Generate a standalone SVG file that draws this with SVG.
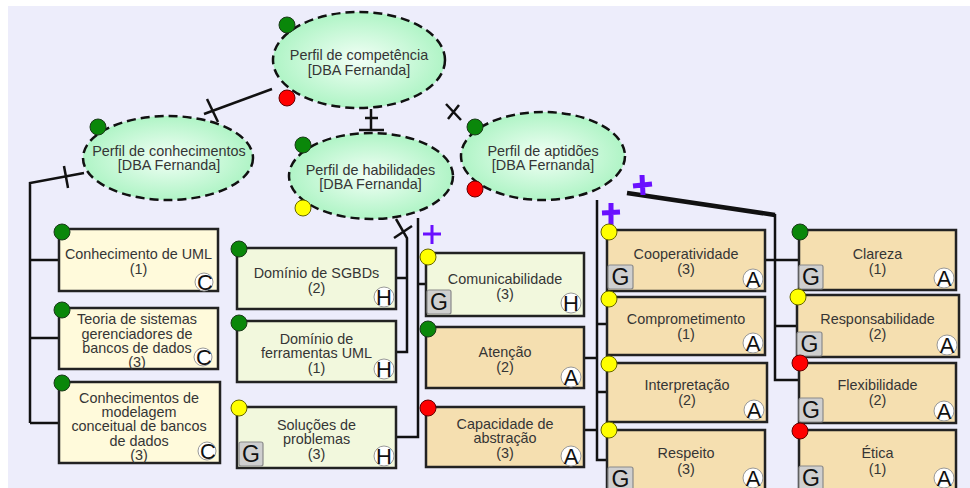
<svg xmlns="http://www.w3.org/2000/svg" width="970" height="488" viewBox="0 0 970 488">
<defs>
<radialGradient id="eg" cx="50%" cy="50%" r="55%">
<stop offset="0%" stop-color="#f2fff6"/>
<stop offset="100%" stop-color="#a9f3c1"/>
</radialGradient>
<style>
text{font-family:"Liberation Sans",Arial,sans-serif;font-size:14.4px;fill:#353535;text-anchor:middle}
.ell{fill:url(#eg);stroke:#111;stroke-width:2.5;stroke-dasharray:9 5}
.bk{fill:#fffadb;stroke:#222;stroke-width:2.5}
.bh{fill:#f2f8dd;stroke:#222;stroke-width:2.5}
.ba{fill:#f5dfb0;stroke:#222;stroke-width:2.5}
.gr{fill:#0a870a;stroke:#1a3a1a;stroke-width:1}
.ye{fill:#ffff00;stroke:#666600;stroke-width:1}
.rd{fill:#ff0000;stroke:#660000;stroke-width:1}
.ic{fill:#fff;stroke:#999;stroke-width:1}
.il{font-size:22px;fill:#111}
.gb{fill:#cfcfcf;stroke:#8a8a8a;stroke-width:1.2}
.gl{font-size:23px;fill:#111}
.cn{fill:none;stroke:#111;stroke-width:2.5}
.pl{fill:none;stroke:#6a10ff;stroke-linecap:butt}
</style>
</defs>
<rect x="0" y="0" width="970" height="488" fill="#ffffff"/>
<rect x="8" y="6" width="962" height="482" fill="#ededfb"/>

<g id="connectors">
<path class="cn" d="M272,89 L204,114"/>
<path class="cn" d="M207,99 L218,122"/>
<path class="cn" d="M371,109 L371,131"/>
<path class="cn" d="M365,118 L378,118 M359,130 L384,130"/>
<path class="cn" d="M446,104 L461,120 M459,105 L448,119"/>
<path class="cn" d="M84,173 L30,183 L30,423"/>
<path class="cn" d="M64,166 L68,188"/>
<path class="cn" d="M30,260 L59,260 M30,338 L59,338 M30,423 L59,423"/>
<path class="cn" d="M396,219 L407,238 L407,352 L396,352 M407,278 L396,278"/>
<path class="cn" d="M394,238 L412,226"/>
<path class="cn" d="M418,218 L418,437 L396,437 M418,284 L426,284"/>
<path class="cn" d="M597,200 L597,460 L607,460 M597,324 L607,324 M597,392 L607,392 M584,358 L597,358 M584,430 L597,430"/>
<path fill="none" stroke="#111" stroke-width="4.5" d="M627,193 L775,215"/>
<path class="cn" stroke-width="3" d="M775,214 L775,380 L800,380 M765,260 L800,260 M775,326 L797,326"/>
<path class="pl" stroke-width="3" d="M423,234 L441,234 M432,225 L432,244"/>
<path class="pl" stroke-width="5" d="M602,213 L620,212 M611,203 L611,227"/>
<path class="pl" stroke-width="5" d="M633,186 L652,184 M642,175 L643,195"/>
</g>

<g id="n-competencia">
<ellipse class="ell" cx="359" cy="60" rx="86" ry="48"/>
<text x="359" y="60">Perfil de competência</text>
<text x="359" y="75">[DBA Fernanda]</text>
<circle class="gr" cx="287" cy="25" r="8"/>
<circle class="rd" cx="287" cy="98" r="8"/>
</g>

<g id="n-conhecimentos">
<ellipse class="ell" cx="168" cy="158" rx="85" ry="42"/>
<text x="169" y="156">Perfil de conhecimentos</text>
<text x="169" y="170">[DBA Fernanda]</text>
<circle class="gr" cx="98" cy="127" r="8"/>
</g>

<g id="n-habilidades">
<ellipse class="ell" cx="371" cy="176" rx="82" ry="43"/>
<text x="370.5" y="175">Perfil de habilidades</text>
<text x="370.5" y="189">[DBA Fernanda]</text>
<circle class="gr" cx="303" cy="145" r="8"/>
<circle class="ye" cx="303" cy="208" r="8"/>
</g>

<g id="n-aptidoes">
<ellipse class="ell" cx="543" cy="156" rx="82" ry="44"/>
<text x="543" y="156">Perfil de aptidões</text>
<text x="543" y="170">[DBA Fernanda]</text>
<circle class="gr" cx="475" cy="127" r="8"/>
<circle class="rd" cx="475" cy="189" r="8"/>
</g>

<g id="n-uml">
<rect class="bk" x="59" y="229" width="159" height="62"/>
<text x="138.5" y="259">Conhecimento de UML</text>
<text x="138.5" y="274">(1)</text>
<circle class="ic" cx="204" cy="282" r="9"/><text class="il" x="205" y="290">C</text>
<circle class="gr" cx="62" cy="232" r="8"/>
</g>

<g id="n-teoria">
<rect class="bk" x="59" y="308" width="159" height="61"/>
<text x="137" y="324">Teoria de sistemas</text>
<text x="137" y="339">gerenciadores de</text>
<text x="137" y="353">bancos de dados</text>
<text x="137" y="367">(3)</text>
<circle class="ic" cx="203" cy="357" r="9"/><text class="il" x="204" y="365">C</text>
<circle class="gr" cx="62" cy="310" r="8"/>
</g>

<g id="n-modelagem">
<rect class="bk" x="59" y="382" width="161" height="81"/>
<text x="139" y="403">Conhecimentos de</text>
<text x="139" y="417">modelagem</text>
<text x="139" y="431">conceitual de bancos</text>
<text x="139" y="446">de dados</text>
<text x="139" y="460">(3)</text>
<circle class="ic" cx="207" cy="451" r="9"/><text class="il" x="208" y="459">C</text>
<circle class="gr" cx="62" cy="383" r="8"/>
</g>

<g id="n-sgbds">
<rect class="bh" x="237" y="248" width="159" height="61"/>
<text x="316.5" y="278">Domínio de SGBDs</text>
<text x="316.5" y="293">(2)</text>
<circle class="ic" cx="384" cy="297" r="10"/><text class="il" x="384" y="305">H</text>
<circle class="gr" cx="239" cy="249" r="8"/>
</g>

<g id="n-ferramentas">
<rect class="bh" x="237" y="321" width="159" height="61"/>
<text x="316.5" y="344">Domínio de</text>
<text x="316.5" y="358">ferramentas UML</text>
<text x="316.5" y="373">(1)</text>
<circle class="ic" cx="384" cy="369" r="10"/><text class="il" x="384" y="377">H</text>
<circle class="gr" cx="239" cy="323" r="8"/>
</g>

<g id="n-solucoes">
<rect class="bh" x="237" y="407" width="159" height="61"/>
<text x="316.5" y="430">Soluções de</text>
<text x="316.5" y="444">problemas</text>
<text x="316.5" y="459">(3)</text>
<circle class="ic" cx="384" cy="456" r="10"/><text class="il" x="384" y="464">H</text>
<rect class="gb" x="239" y="442" width="24" height="24" rx="2"/><text class="gl" x="251" y="462">G</text>
<circle class="ye" cx="239" cy="408" r="8"/>
</g>

<g id="n-comunicabilidade">
<rect class="bh" x="426" y="253" width="158" height="63"/>
<text x="505" y="284">Comunicabilidade</text>
<text x="505" y="299">(3)</text>
<circle class="ic" cx="571" cy="303" r="10"/><text class="il" x="571" y="311">H</text>
<rect class="gb" x="427" y="290" width="24" height="24" rx="2"/><text class="gl" x="439" y="310">G</text>
<circle class="ye" cx="428" cy="257" r="8"/>
</g>

<g id="n-atencao">
<rect class="ba" x="426" y="327" width="158" height="61"/>
<text x="505" y="357">Atenção</text>
<text x="505" y="372">(2)</text>
<circle class="ic" cx="571" cy="377" r="10"/><text class="il" x="571" y="385">A</text>
<circle class="gr" cx="428" cy="329" r="8"/>
</g>

<g id="n-capacidade">
<rect class="ba" x="426" y="407" width="158" height="60"/>
<text x="505" y="429">Capacidade de</text>
<text x="505" y="443">abstração</text>
<text x="505" y="458">(3)</text>
<circle class="ic" cx="571" cy="456" r="10"/><text class="il" x="571" y="464">A</text>
<circle class="rd" cx="428" cy="408" r="8"/>
</g>

<g id="n-cooperatividade">
<rect class="ba" x="607" y="230" width="158" height="61"/>
<text x="686" y="259">Cooperatividade</text>
<text x="686" y="274">(3)</text>
<circle class="ic" cx="753" cy="279" r="10"/><text class="il" x="753" y="287">A</text>
<rect class="gb" x="608" y="265" width="25" height="24" rx="2"/><text class="gl" x="620.5" y="285">G</text>
<circle class="ye" cx="609" cy="232" r="8"/>
</g>

<g id="n-comprometimento">
<rect class="ba" x="607" y="297" width="158" height="58"/>
<text x="686" y="324">Comprometimento</text>
<text x="686" y="339">(1)</text>
<circle class="ic" cx="753" cy="343" r="10"/><text class="il" x="753" y="351">A</text>
<circle class="ye" cx="609" cy="299" r="8"/>
</g>

<g id="n-interpretacao">
<rect class="ba" x="607" y="363" width="160" height="59"/>
<text x="687" y="390">Interpretação</text>
<text x="687" y="405">(2)</text>
<circle class="ic" cx="754" cy="410" r="10"/><text class="il" x="754" y="418">A</text>
<circle class="ye" cx="609" cy="364" r="8"/>
</g>

<g id="n-respeito">
<rect class="ba" x="607" y="430" width="158" height="70"/>
<text x="686" y="458">Respeito</text>
<text x="686" y="474">(3)</text>
<circle class="ic" cx="753" cy="478" r="10"/><text class="il" x="753" y="486">A</text>
<rect class="gb" x="608" y="467" width="25" height="24" rx="2"/><text class="gl" x="620.5" y="487">G</text>
<circle class="ye" cx="609" cy="430" r="8"/>
</g>

<g id="n-clareza">
<rect class="ba" x="799" y="230" width="157" height="60"/>
<text x="877.5" y="259">Clareza</text>
<text x="877.5" y="274">(1)</text>
<circle class="ic" cx="944" cy="278" r="10"/><text class="il" x="944" y="286">A</text>
<rect class="gb" x="799" y="265" width="24" height="24" rx="2"/><text class="gl" x="811" y="285">G</text>
<circle class="gr" cx="800" cy="232" r="8"/>
</g>

<g id="n-responsabilidade">
<rect class="ba" x="797" y="295" width="162" height="62"/>
<text x="877.5" y="324">Responsabilidade</text>
<text x="877.5" y="339">(2)</text>
<circle class="ic" cx="947" cy="345" r="10"/><text class="il" x="947" y="353">A</text>
<rect class="gb" x="797" y="332" width="25" height="24" rx="2"/><text class="gl" x="809.5" y="352">G</text>
<circle class="ye" cx="798" cy="297" r="8"/>
</g>

<g id="n-flexibilidade">
<rect class="ba" x="799" y="363" width="157" height="60"/>
<text x="877.5" y="390">Flexibilidade</text>
<text x="877.5" y="405">(2)</text>
<circle class="ic" cx="944" cy="411" r="10"/><text class="il" x="944" y="419">A</text>
<rect class="gb" x="799" y="398" width="24" height="24" rx="2"/><text class="gl" x="811" y="418">G</text>
<circle class="rd" cx="800" cy="363" r="8"/>
</g>

<g id="n-etica">
<rect class="ba" x="799" y="430" width="157" height="70"/>
<text x="877.5" y="458">Ética</text>
<text x="877.5" y="474">(1)</text>
<circle class="ic" cx="944" cy="478" r="10"/><text class="il" x="944" y="486">A</text>
<rect class="gb" x="799" y="466" width="24" height="24" rx="2"/><text class="gl" x="811" y="486">G</text>
<circle class="rd" cx="800" cy="431" r="8"/>
</g>
</svg>
